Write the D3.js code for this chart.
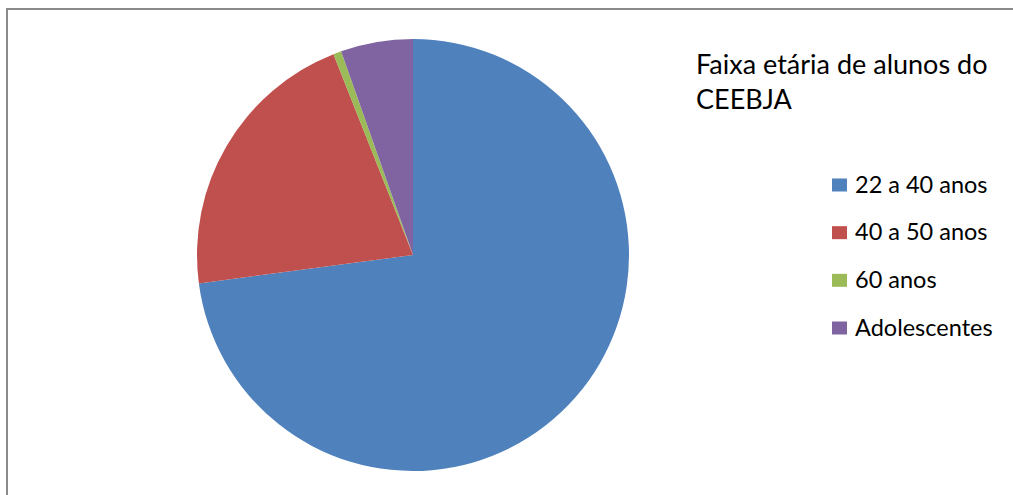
<!DOCTYPE html>
<html>
<head>
<meta charset="utf-8">
<script src="https://d3js.org/d3.v7.min.js"></script>
<style>
body { margin: 0; background: #fff; }
text { font-family: Lato, "Open Sans", sans-serif; fill: #000; }
</style>
</head>
<body>
<div id="chart"></div>
<script>
// faixa etaria (percentual aproximado)
var categories = ["22 a 40 anos", "40 a 50 anos", "60 anos", "Adolescentes"];
var values = [72.9, 21.1, 0.6, 5.4];
var colors = ["#4F81BD", "#C0504D", "#9BBB59", "#8064A2"];
var titleLines = ["Faixa etária de alunos do", "CEEBJA"];

var w = 1013, h = 495;

var svg = d3.select("#chart").append("svg")
	.attr("width", w)
	.attr("height", h);

// moldura (so topo e esquerda aparecem)
svg.append("rect")
	.attr("x", 7).attr("y", 9)
	.attr("width", w + 20).attr("height", h + 20)
	.style("fill", "none")
	.style("stroke", "#8a8a8a")
	.style("stroke-width", 2);

var pie = d3.pie().sort(null).value(function(d) { return d; });
var arc = d3.arc().innerRadius(0).outerRadius(216);
var color = d3.scaleOrdinal().domain(categories).range(colors);

var g = svg.append("g").attr("transform", "translate(413,255)");
g.selectAll("path")
	.data(pie(values))
	.enter().append("path")
	.attr("d", arc)
	.style("fill", function(d, i) { return color(categories[i]); });

// titulo
svg.selectAll("text.title")
	.data(titleLines)
	.enter().append("text")
	.attr("class", "title")
	.attr("x", 696)
	.attr("y", function(d, i) { return 74 + i * 35; })
	.style("font-size", "27px")
	.text(function(d) { return d; });

// legenda
var y = d3.scalePoint().domain(categories).range([185, 328]);
var leg = svg.selectAll("g.leg")
	.data(categories)
	.enter().append("g")
	.attr("class", "leg")
	.attr("transform", function(d) { return "translate(832," + y(d) + ")"; });
leg.append("rect")
	.attr("x", 0).attr("y", -6.5)
	.attr("width", 15).attr("height", 13)
	.style("fill", function(d) { return color(d); });
leg.append("text")
	.attr("x", 23).attr("y", 7.5)
	.style("font-size", "23.5px")
	.text(function(d) { return d; });
</script>
</body>
</html>
